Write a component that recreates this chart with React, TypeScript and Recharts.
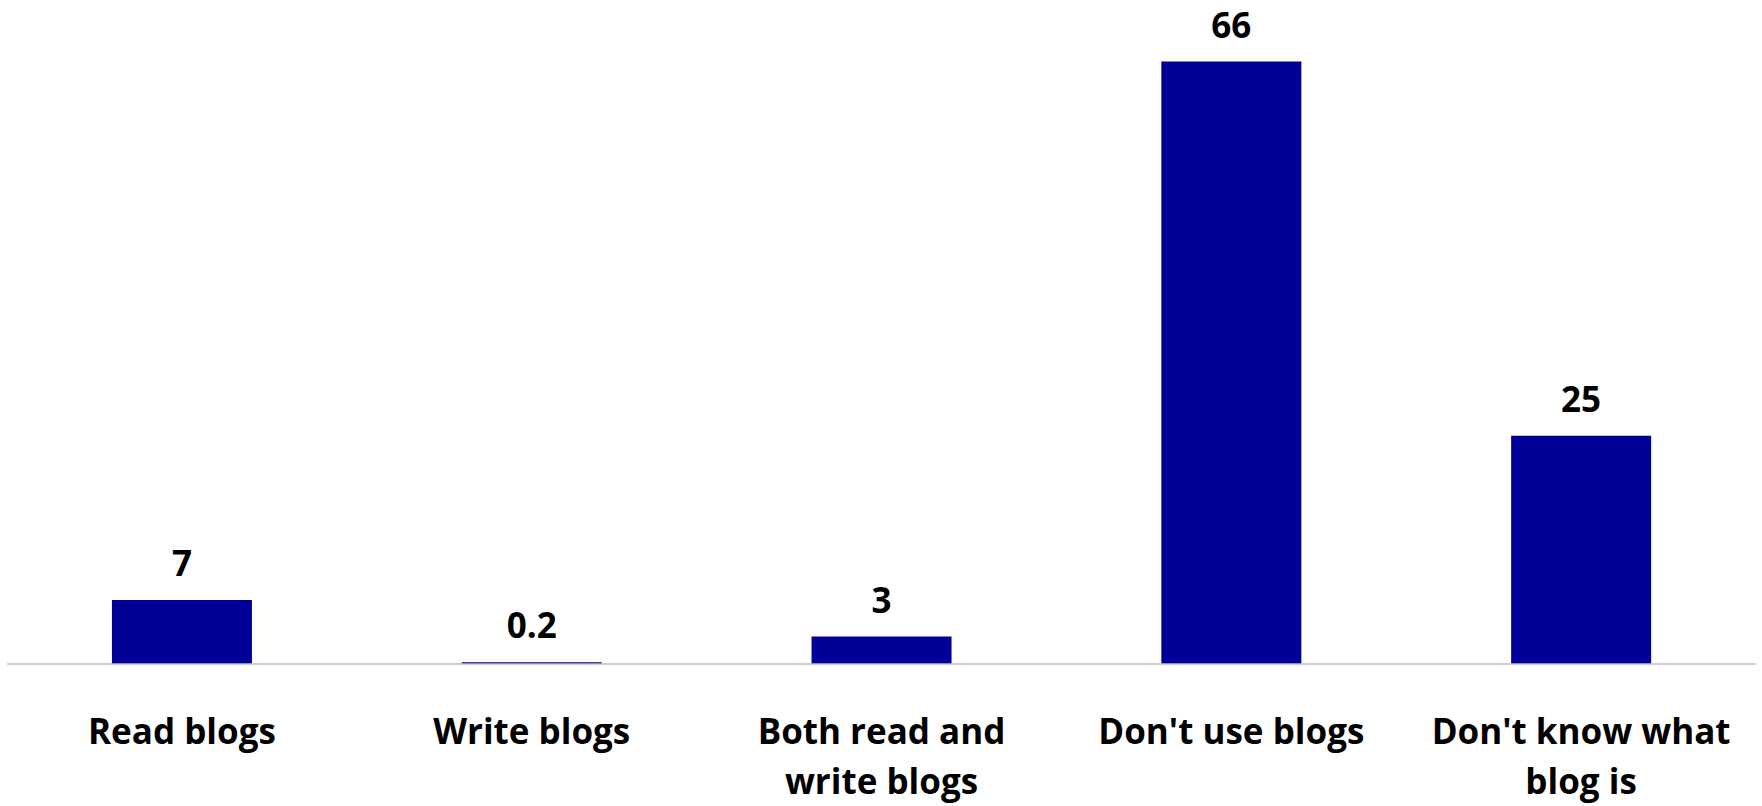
import React from "react"
import { Bar, BarChart, LabelList, XAxis, YAxis } from "recharts"

const categories = [
  "Read blogs",
  "Write blogs",
  "Both read and\nwrite blogs",
  "Don't use blogs",
  "Don't know what\nblog is",
]

const shares = [7, 0.2, 3, 66, 25]

const data = categories.map((name, i) => ({ name, value: shares[i] }))

const font = "'Open Sans', sans-serif"

function CategoryTick(props: any) {
  const { x, y, payload } = props
  const lines = String(payload.value).split("\n")
  return (
    <text x={x} y={y + 78} textAnchor="middle" fontFamily={font} fontWeight={700} fontSize={35} fill="#000">
      {lines.map((line, i) => (
        <tspan key={i} x={x} dy={i === 0 ? 0 : 50}>
          {line}
        </tspan>
      ))}
    </text>
  )
}

export default function App() {
  return (
    <div style={{ position: "absolute", left: 0, top: 0, background: "#fff" }}>
      <BarChart
        width={1762}
        height={806}
        data={data}
        margin={{ top: 25, right: 6, bottom: 0, left: 7 }}
        barCategoryGap="30%"
      >
        <XAxis
          dataKey="name"
          height={142}
          interval={0}
          tickLine={false}
          tickSize={0}
          stroke="#bfbfbf"
          strokeWidth={1.5}
          tick={<CategoryTick />}
        />
        <YAxis hide domain={[0, 70]} />
        <Bar dataKey="value" fill="#000099" isAnimationActive={false}>
          <LabelList
            dataKey="value"
            position="top"
            offset={24}
            fontFamily={font}
            fontWeight={700}
            fontSize={35}
            fill="#000"
          />
        </Bar>
      </BarChart>
    </div>
  )
}
